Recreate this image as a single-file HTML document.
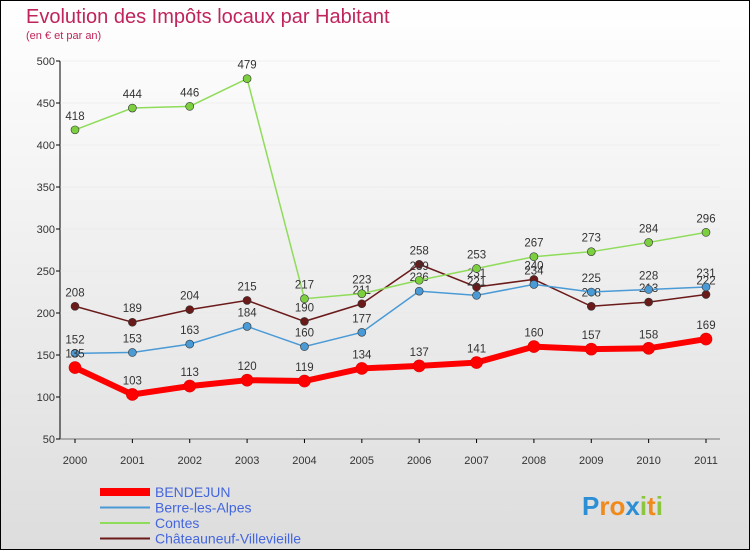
<!DOCTYPE html>
<html><head><meta charset="utf-8"><style>
body{margin:0;width:750px;height:550px;overflow:hidden;font-family:"Liberation Sans",sans-serif}
#c{position:absolute;left:0;top:0;width:748px;height:548px;border:1px solid #000;background:linear-gradient(#fff,#ddd)}
</style></head><body>
<div id="c">
<svg id="s" width="750" height="550" style="position:absolute;left:-1px;top:-1px;font-family:'Liberation Sans',sans-serif">
<text x="26" y="23" font-size="20" fill="#c0245c">Evolution des Impôts locaux par Habitant</text>
<text x="26" y="39" font-size="11" fill="#c0245c">(en € et par an)</text>
</svg></div>
<script>
const years=["2000","2001","2002","2003","2004","2005","2006","2007","2008","2009","2010","2011"];
const yTicks=[50,100,150,200,250,300,350,400,450,500];
const bendejun=[135,103,113,120,119,134,137,141,160,157,158,169];
const berre=[152,153,163,184,160,177,226,221,234,225,228,231];
const contes=[418,444,446,479,217,223,239,253,267,273,284,296];
const chateau=[208,189,204,215,190,211,258,231,240,208,213,222];
const names=["BENDEJUN","Berre-les-Alpes","Contes","Châteauneuf-Villevieille"];
const s=document.getElementById('s');const NS="http://www.w3.org/2000/svg";
const X=i=>75+i*(631/11);const Y=v=>439-(v-50)*0.84;
function el(t,a,txt){const e=document.createElementNS(NS,t);for(const k in a)e.setAttribute(k,a[k]);if(txt!=null)e.textContent=txt;s.appendChild(e);return e;}
const ax=el('line',{x1:60,y1:61,x2:60,y2:439,stroke:'#000'});


const bx=el('line',{x1:60,y1:439,x2:720,y2:439,stroke:'#000'});


yTicks.forEach(v=>{
 const g=el('line',{x1:60,y1:Y(v),x2:720,y2:Y(v),stroke:'#e4e4e4','stroke-width':0.5});
 
 
 el('line',{x1:56,y1:Y(v),x2:60,y2:Y(v),stroke:'#000'});
 const t=el('text',{x:55,y:Y(v)+4,'font-size':11,'text-anchor':'end',fill:'#333'},v);
 
 
});
years.forEach((y,i)=>{
 el('line',{x1:X(i),y1:439,x2:X(i),y2:443,stroke:'#000'});
 const t=el('text',{x:X(i),y:464,'font-size':11,'text-anchor':'middle',fill:'#333'},y);
 
 
});
const series=[[chateau,'#6b1a1a','#6b1a1a',1.5,4],[berre,'#4a9ad6','#4a9ad6',1.5,4],[contes,'#8fdc5a','#7ccf3f',1.5,4],[bendejun,'#ff0000','#ff0000',6,6]];
const sn=['chateauneuf','berre','contes','bendejun'];
series.forEach(([d,c,fc,w,r],k)=>{
 const p=el('polyline',{points:d.map((v,i)=>X(i)+','+Y(v)).join(' '),fill:'none',stroke:c,'stroke-width':w});
 
 
 d.forEach((v,i)=>{
  const m=el('circle',{cx:X(i),cy:Y(v),r:r,fill:fc,stroke:k==3?'#d00':'#333','stroke-width':0.6});
  
  
  const t=el('text',{x:X(i),y:Y(v)-10,'font-size':11.5,'text-anchor':'middle',fill:'#333'},v);
  
  
 });
});
const lc=['#ff0000','#4a9ad6','#8fdc5a','#6b1a1a'];const lw=[8,2,2,2];
names.forEach((n,i)=>{
 const y=492+i*15.5;
 const l=el('line',{x1:100,y1:y,x2:150,y2:y,stroke:lc[i],'stroke-width':lw[i]});
 
 
 const t=el('text',{x:155,y:y+5,'font-size':14,fill:'#4466dd'},n);
 
 
});
const logo=el('text',{x:582,y:515,'font-size':26,'font-weight':'bold',fill:'#f08a1c'},'');


[['P','#2c8fd6'],['ro','#f08a1c'],['x','#2c8fd6'],['i','#8cc63f'],['t','#f08a1c'],['i','#8cc63f']].forEach(([c,f])=>{const ts=document.createElementNS(NS,'tspan');ts.setAttribute('fill',f);ts.textContent=c;logo.appendChild(ts);});
</script>
</body></html>
